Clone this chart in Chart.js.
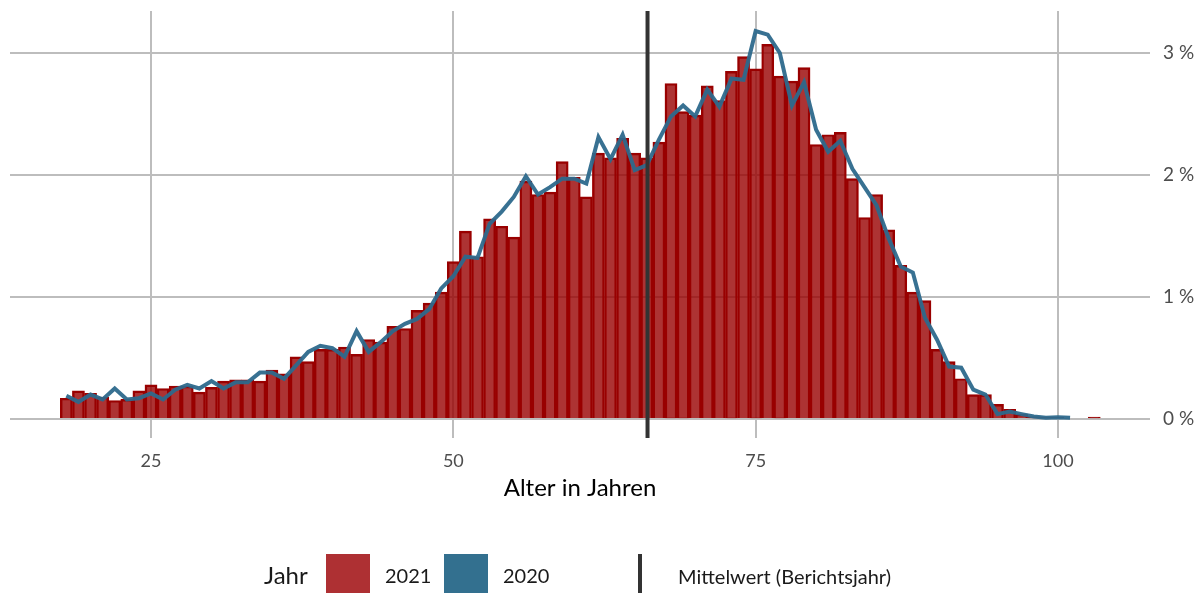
<!DOCTYPE html>
<html>
<head>
<meta charset="utf-8">
<script src="https://cdn.jsdelivr.net/npm/chart.js@4.4.1/dist/chart.umd.min.js"></script>
<style>
  html, body { margin: 0; padding: 0; background: #fff; }
  #wrap { position: relative; width: 1201px; height: 593px; font-family: Lato, "Noto Sans", sans-serif; }
  #chart { position: absolute; left: 0; top: 0; }
  .lg { position: absolute; color: #1a1a1a; line-height: 1; }
  .sw { position: absolute; }
</style>
</head>
<body>
<div id="wrap">
  <canvas id="chart" width="1201" height="593"></canvas>
  <div class="lg" style="left:264px; top:563px; font-size:24px;">Jahr</div>
  <div class="sw" style="left:326px; top:554px; width:44px; height:39px; background:#ae3033;"></div>
  <div class="lg" style="left:385px; top:565px; font-size:20px;">2021</div>
  <div class="sw" style="left:444px; top:554px; width:44px; height:39px; background:#33708f;"></div>
  <div class="lg" style="left:503px; top:565px; font-size:20px;">2020</div>
  <div class="sw" style="left:638px; top:554px; width:4px; height:39px; background:#333333;"></div>
  <div class="lg" style="left:678px; top:566px; font-size:20px;">Mittelwert (Berichtsjahr)</div>
</div>
<script>
// Alter (Jahre) und Anteil in % je Jahrgang
const ages2021 = [18,19,20,21,22,23,24,25,26,27,28,29,30,31,32,33,34,35,36,37,38,39,40,41,42,43,44,45,46,47,48,49,
  50,51,52,53,54,55,56,57,58,59,60,61,62,63,64,65,66,67,68,69,70,71,72,73,74,75,76,77,78,79,
  80,81,82,83,84,85,86,87,88,89,90,91,92,93,94,95,96,97,98,99,100,103];
const share2021 = [0.17,0.23,0.21,0.18,0.15,0.16,0.23,0.28,0.25,0.27,0.27,0.22,0.26,0.31,0.32,0.32,0.31,0.40,0.37,0.51,0.47,0.57,0.57,0.59,0.53,0.65,0.63,0.76,0.74,0.89,0.95,1.04,
  1.29,1.54,1.33,1.64,1.58,1.49,1.95,1.84,1.86,2.11,1.98,1.82,2.18,2.14,2.30,2.18,2.14,2.27,2.75,2.52,2.49,2.73,2.61,2.85,2.97,2.87,3.07,2.81,2.77,2.88,
  2.25,2.33,2.35,1.97,1.65,1.84,1.55,1.26,1.04,0.97,0.57,0.47,0.33,0.20,0.20,0.12,0.08,0.04,0.02,0.015,0.015,0.015];

const ages2020 = [18,19,20,21,22,23,24,25,26,27,28,29,30,31,32,33,34,35,36,37,38,39,40,41,42,43,44,45,46,47,48,49,
  50,51,52,53,54,55,56,57,58,59,60,61,62,63,64,65,66,67,68,69,70,71,72,73,74,75,76,77,78,79,
  80,81,82,83,84,85,86,87,88,89,90,91,92,93,94,95,96,97,98,99,100,101];
const share2020 = [0.19,0.14,0.20,0.16,0.25,0.16,0.17,0.21,0.16,0.24,0.28,0.25,0.31,0.25,0.30,0.30,0.38,0.38,0.33,0.44,0.55,0.60,0.58,0.51,0.72,0.55,0.63,0.72,0.78,0.82,0.90,1.07,
  1.17,1.33,1.32,1.60,1.70,1.82,1.99,1.84,1.90,1.97,1.97,1.93,2.31,2.13,2.33,2.04,2.08,2.29,2.48,2.57,2.48,2.70,2.56,2.79,2.78,3.18,3.15,3.00,2.57,2.76,
  2.37,2.19,2.28,2.05,1.90,1.75,1.48,1.25,1.20,0.83,0.65,0.43,0.42,0.24,0.20,0.04,0.06,0.04,0.02,0.01,0.015,0.01];

const meanAge = 66.06;
const xTicks = [25, 50, 75, 100];
const yTicks = [0, 1, 2, 3];

const bars = ages2021.map((a, i) => ({ x: a, y: share2021[i] }));
const line = ages2020.map((a, i) => ({ x: a, y: share2020[i] }));

const meanLine = {
    id: 'meanLine',
    afterDatasetsDraw(chart) {
        const ctx = chart.ctx;
        const x = chart.scales.x.getPixelForValue(meanAge);
        ctx.save();
        ctx.strokeStyle = '#333333';
        ctx.lineWidth = 4;
        ctx.beginPath();
        ctx.moveTo(x, chart.chartArea.top);
        ctx.lineTo(x, chart.chartArea.bottom);
        ctx.stroke();
        ctx.restore();
    }
};

const ctx = document.getElementById('chart').getContext('2d');
const chart = new Chart(ctx, {
    type: 'bar',
    data: {
        datasets: [{
            type: 'line',
            label: '2020',
            data: line,
            borderColor: 'rgba(45,105,140,0.95)',
            borderWidth: 4,
            pointRadius: 0,
            tension: 0,
            fill: false,
            order: 0
        }, {
            type: 'bar',
            label: '2021',
            data: bars,
            backgroundColor: 'rgba(153,0,0,0.8)',
            borderColor: '#990000',
            borderWidth: 1.8,
            barPercentage: 1,
            categoryPercentage: 1,
            order: 1
        }]
    },
    options: {
        responsive: false,
        animation: false,
        layout: { padding: { top: 11, left: 10, right: 0, bottom: 75 } },
        plugins: { legend: { display: false }, tooltip: { enabled: false } },
        scales: {
            x: {
                type: 'linear',
                min: 13.34,
                max: 107.61,
                offset: false,
                grid: { offset: false, color: '#bdbdbd', lineWidth: 2, drawTicks: false },
                border: { display: false },
                afterBuildTicks: s => { s.ticks = xTicks.map(v => ({ value: v })); },
                afterFit: s => { s.height = 80; s.paddingLeft = 0; s.paddingRight = 0; },
                ticks: {
                    padding: 12,
                    color: '#4d4d4d',
                    font: { family: 'Lato', size: 18 },
                    callback: v => String(v)
                },
                title: {
                    display: true,
                    text: 'Alter in Jahren',
                    color: '#000000',
                    font: { family: 'Lato', size: 24 },
                    padding: { top: 0, bottom: 15 }
                }
            },
            y: {
                position: 'right',
                min: -0.156,
                max: 3.344,
                grid: { color: '#bdbdbd', lineWidth: 2, drawTicks: false },
                border: { display: false },
                afterBuildTicks: s => { s.ticks = yTicks.map(v => ({ value: v })); },
                afterFit: s => { s.width = 51; s.paddingTop = 0; s.paddingBottom = 0; },
                ticks: {
                    padding: 13,
                    color: '#4d4d4d',
                    font: { family: 'Lato', size: 19 },
                    callback: v => v + ' %'
                }
            }
        }
    },
    plugins: [meanLine]
});
</script>
</body>
</html>
